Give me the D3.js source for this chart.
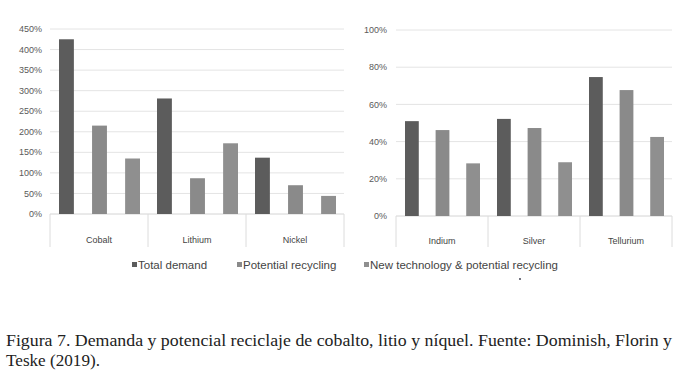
<!DOCTYPE html>
<html><head><meta charset="utf-8">
<script src="https://cdn.jsdelivr.net/npm/d3@7"></script>
<style>body{margin:0;background:#fff}svg{display:block}</style>
</head><body>
<svg id="c" width="696" height="388"></svg>
<script>
const series = ["Total demand", "Potential recycling", "New technology & potential recycling"];
const colors = ["#5c5c5c", "#8a8a8a", "#8f8f8f"];
const leftCats = ["Cobalt", "Lithium", "Nickel"];
const leftTotal = [425, 281, 137];
const leftPotential = [215, 87, 70];
const leftNew = [135, 172, 44];
const leftTicks = [0, 50, 100, 150, 200, 250, 300, 350, 400, 450];
const rightCats = ["Indium", "Silver", "Tellurium"];
const rightTotal = [51, 52.2, 74.7];
const rightPotential = [46.2, 47.3, 67.7];
const rightNew = [28.3, 28.9, 42.5];
const rightTicks = [0, 20, 40, 60, 80, 100];
const captionLines = ["Figura 7. Demanda y potencial reciclaje de cobalto, litio y níquel. Fuente: Dominish, Florin y", "Teske (2019)."];

const svg = d3.select("#c");
svg.append("rect").attr("width",696).attr("height",388).attr("fill","#fff");

function panel(cfg){
  const g = svg.append("g");
  const y = d3.scaleLinear().domain(cfg.domain).range([cfg.y0, cfg.y1]);
  const x = d3.scaleBand().domain(cfg.cats).range([cfg.x0, cfg.x1]).paddingInner(0).paddingOuter(0);
  const sub = d3.scaleBand().domain(d3.range(3)).range([cfg.inner0, x.bandwidth()-cfg.inner1]).paddingInner(cfg.pad);
  g.selectAll("line.grid").data(cfg.ticks).join("line")
    .attr("x1", cfg.x0).attr("x2", cfg.x1)
    .attr("y1", d=>y(d)).attr("y2", d=>y(d))
    .attr("stroke", d=> d===0 ? "#d4d4d4" : "#e4e4e4").attr("stroke-width",1);
  g.selectAll("text.tick").data(cfg.ticks).join("text")
    .attr("x", cfg.labelX).attr("y", d=>y(d)).attr("dy","0.35em")
    .attr("text-anchor","end").attr("font-family","Liberation Sans, Arial, sans-serif")
    .attr("font-size",9).attr("fill","#5a5a5a").text(d=>d+"%");
  const seps = cfg.cats.map(c=>x(c)).concat([cfg.x1]);
  g.selectAll("line.sep").data(seps).join("line")
    .attr("x1",d=>d).attr("x2",d=>d).attr("y1",cfg.y0).attr("y2",cfg.boxBottom)
    .attr("stroke","#dcdcdc").attr("stroke-width",1);
  const vals = [cfg.total, cfg.potential, cfg.newt];
  vals.forEach((arr,si)=>{
    g.selectAll("rect.s"+si).data(arr).join("rect")
      .attr("x",(d,i)=>x(cfg.cats[i])+sub(si))
      .attr("width",sub.bandwidth())
      .attr("y",d=>y(d)).attr("height",d=>y(0)-y(d))
      .attr("fill",colors[si]);
  });
  g.selectAll("text.cat").data(cfg.cats).join("text")
    .attr("x",d=>x(d)+x.bandwidth()/2).attr("y",cfg.catY)
    .attr("text-anchor","middle").attr("font-family","Liberation Sans, Arial, sans-serif")
    .attr("font-size",9).attr("fill","#444").text(d=>d);
}

panel({domain:[0,450], y0:214, y1:29, x0:50, x1:344, cats:leftCats, inner0:9, inner1:8, pad:0.55,
  ticks:leftTicks, labelX:42, boxBottom:247, catY:243,
  total:leftTotal, potential:leftPotential, newt:leftNew});
panel({domain:[0,100], y0:216, y1:30, x0:396, x1:672, cats:rightCats, inner0:9, inner1:8, pad:0.55,
  ticks:rightTicks, labelX:387, boxBottom:247, catY:244,
  total:rightTotal, potential:rightPotential, newt:rightNew});

const leg = svg.append("g");
const legX = [132, 237, 364];
series.forEach((s,i)=>{
  leg.append("rect").attr("x",legX[i]).attr("y",262).attr("width",5).attr("height",5).attr("fill",colors[i]);
  leg.append("text").attr("x",legX[i]+6).attr("y",269).attr("font-family","Liberation Sans, Arial, sans-serif")
    .attr("font-size",11.5).attr("fill","#444").text(s);
});
svg.append("circle").attr("cx",520).attr("cy",279).attr("r",0.9).attr("fill","#334");

svg.append("text").attr("x",6).attr("y",346).attr("font-family","Liberation Serif, serif")
  .attr("font-size",17.5).attr("fill","#222").attr("textLength",666).attr("lengthAdjust","spacingAndGlyphs").text(captionLines[0]);
svg.append("text").attr("x",6).attr("y",366).attr("font-family","Liberation Serif, serif")
  .attr("font-size",17.5).attr("fill","#222").attr("textLength",94).attr("lengthAdjust","spacingAndGlyphs").text(captionLines[1]);
</script>
</body></html>
